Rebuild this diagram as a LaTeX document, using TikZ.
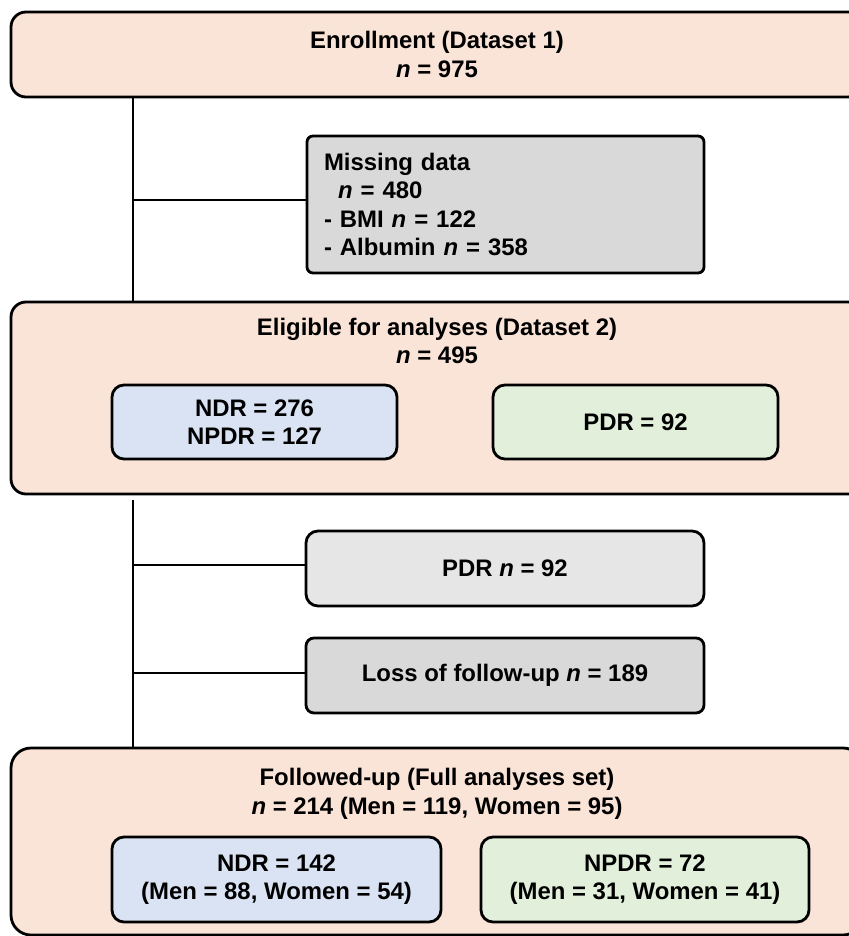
\documentclass[tikz,border=0pt]{standalone}
\usepackage{fontspec}
\setmainfont{Liberation Sans}
\definecolor{peach}{HTML}{FAE4D7}
\definecolor{lblue}{HTML}{DAE3F3}
\definecolor{lgreen}{HTML}{E2EFDA}
\definecolor{gmiss}{HTML}{D9D9D9}
\definecolor{gpdr}{HTML}{E7E6E6}
\definecolor{gloss}{HTML}{D9D9D9}
\begin{document}
\begin{tikzpicture}[x=1bp,y=-1bp,
  every node/.style={font=\fontsize{24}{28.5}\selectfont\bfseries, align=center, inner sep=0pt},
  bigbox/.style={draw=black, line width=2.8bp, fill=peach, rounded corners=15bp, minimum width=852bp},
  subbox/.style={draw=black, line width=2.8bp, rounded corners=12bp},
  link/.style={draw=black, line width=2.8bp}]
\useasboundingbox (0,0) rectangle (849,936);
\clip (0,0) rectangle (849,936);

% top
\node[bigbox, minimum height=85bp] (enroll) at (437,54.5) {Enrollment (Dataset 1)\\\textit{n} = 975};

\node[subbox, fill=gmiss, rounded corners=6bp, minimum width=397bp, minimum height=137bp,
      text width=363bp, align=left, inner xsep=17bp] (missing) at (505.5,204.5)
  {Missing data\\\hspace*{14bp}\textit{n} = 480\\- BMI \textit{n} = 122\\- Albumin \textit{n} = 358};

% eligible
\node[bigbox, minimum height=192bp] (elig) at (437,398) {};
\node (eligT) at (437,341) {Eligible for analyses (Dataset 2)\\\textit{n} = 495};
\node[subbox, fill=lblue, minimum width=285bp, minimum height=74bp] (ndra) at (254.5,422) {NDR = 276\\NPDR = 127};
\node[subbox, fill=lgreen, minimum width=285bp, minimum height=74bp] (pdra) at (635.5,422) {PDR = 92};

% exclusions
\node[subbox, fill=gpdr, minimum width=398bp, minimum height=75bp] (pdrn) at (505,568.5) {PDR \textit{n} = 92};
\node[subbox, fill=gloss, rounded corners=8bp, minimum width=398bp, minimum height=75bp] (loss) at (505,675.5) {Loss of follow-up \textit{n} = 189};

% followed-up
\node[bigbox, rounded corners=20bp, minimum height=187bp] (follow) at (437,841.5) {};
\node (followT) at (437,794) {Followed-up (Full analyses set)\\\textit{n} = 214 (Men = 119, Women = 95)};
\node[subbox, fill=lblue, minimum width=329bp, minimum height=85bp] (ndrb) at (276.5,879.5) {NDR = 142\\(Men = 88, Women = 54)};
\node[subbox, fill=lgreen, minimum width=328bp, minimum height=85bp] (npdrb) at (645,879.5) {NPDR = 72\\(Men = 31, Women = 41)};

% connectors
\coordinate (j1) at (133,200);
\coordinate (j2) at (133,565);
\coordinate (j3) at (133,673);
\coordinate (s2) at (133,500);
\draw[link] (enroll.south -| j1) -- (elig.north -| j1);
\draw[link] (j1) -- (j1 -| missing.west);
\draw[link] (s2) -- (follow.north -| s2);
\draw[link] (j2) -- (j2 -| pdrn.west);
\draw[link] (j3) -- (j3 -| loss.west);
\end{tikzpicture}
\end{document}
